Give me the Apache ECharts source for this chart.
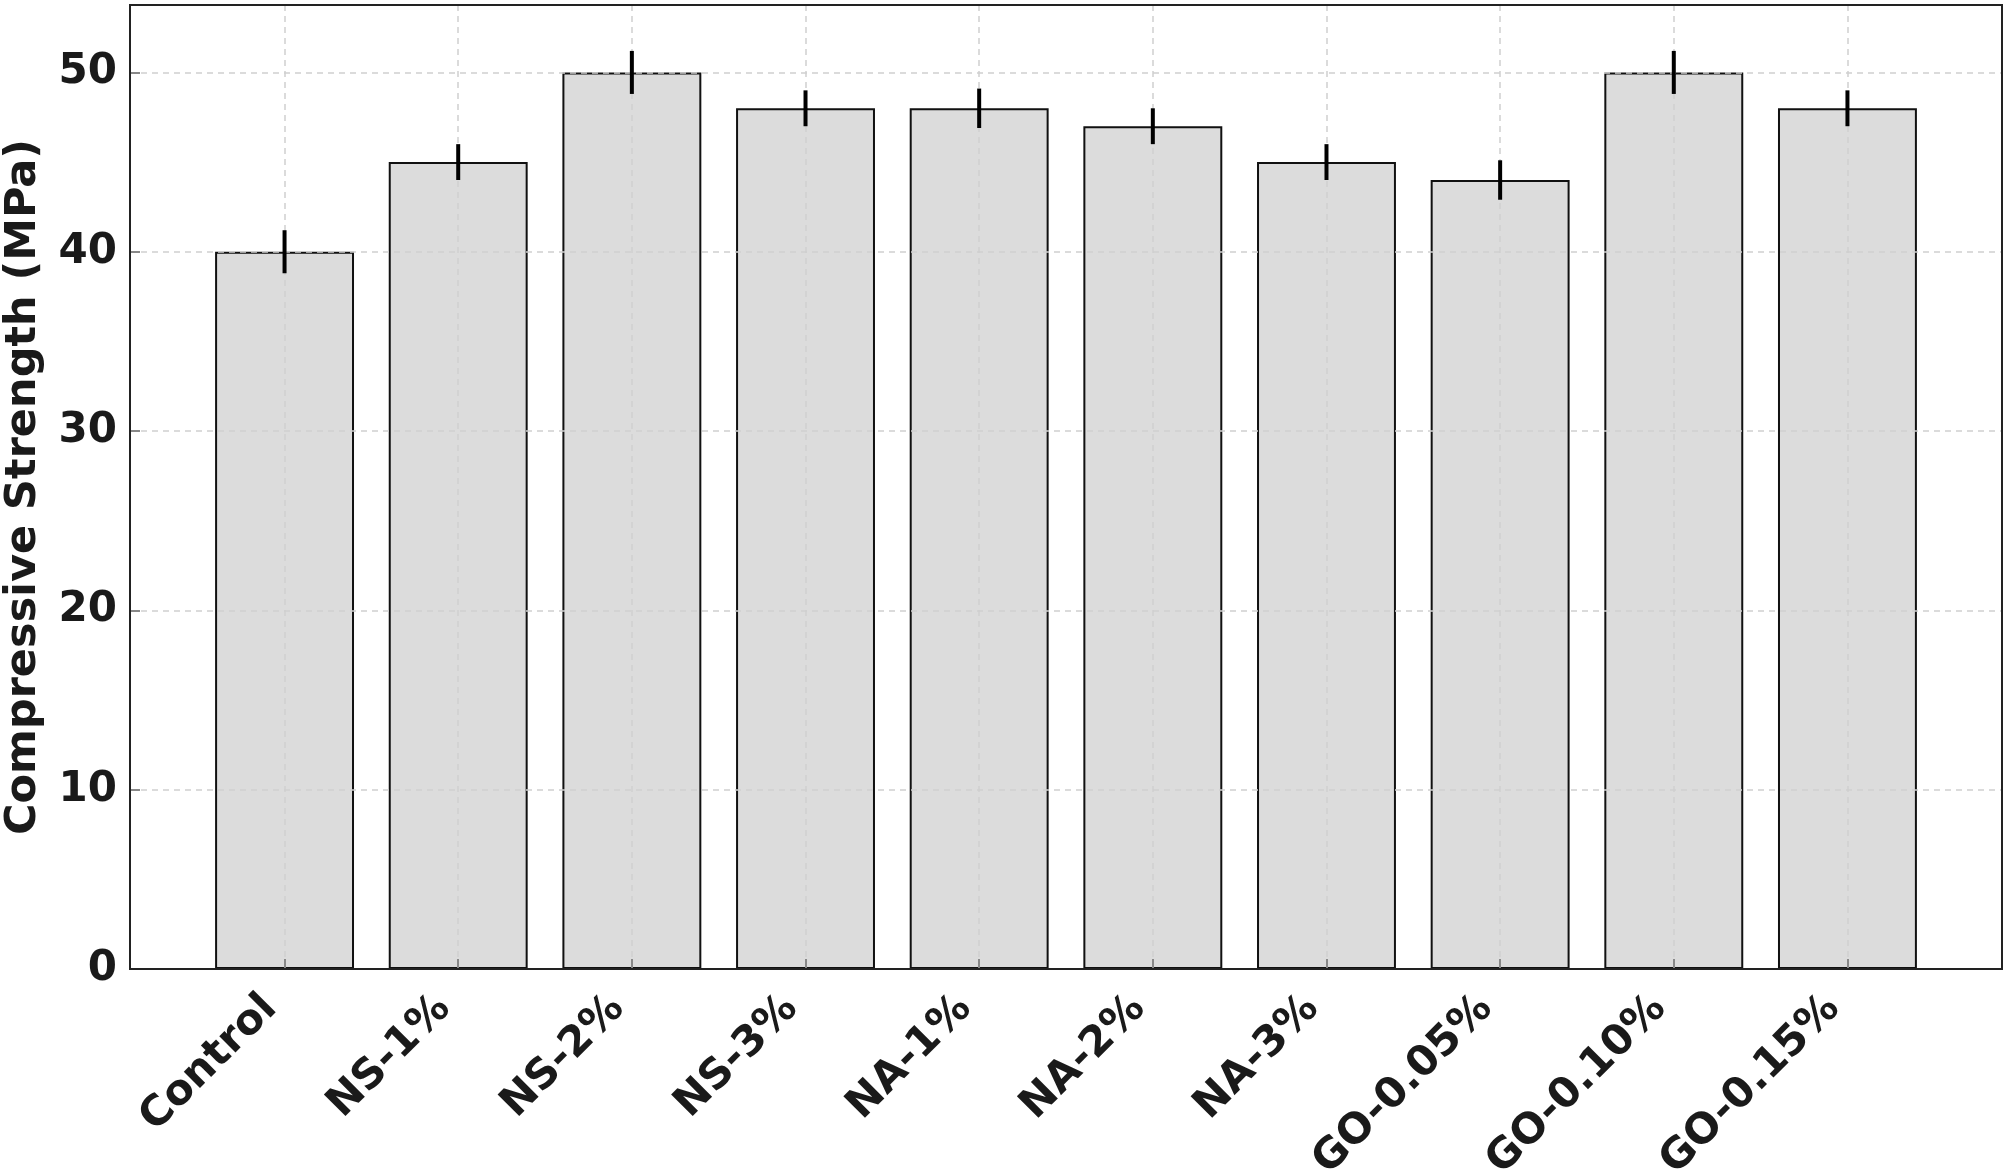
<!DOCTYPE html>
<html>
<head>
<meta charset="utf-8">
<script src="https://cdn.jsdelivr.net/npm/echarts@6/dist/echarts.min.js"></script>
<style>
html,body{margin:0;padding:0;background:#fff;}
#chart{width:2008px;height:1174px;}
</style>
</head>
<body>
<div id="chart"></div>
<script>
const categories = ['Control','NS-1%','NS-2%','NS-3%','NA-1%','NA-2%','NA-3%','GO-0.05%','GO-0.10%','GO-0.15%'];
const strength = [40, 45, 50, 48, 48, 47, 45, 44, 50, 48];
const errors = [1.2, 1.0, 1.2, 1.0, 1.1, 1.0, 1.0, 1.1, 1.2, 1.0];
const yTickValues = [0, 10, 20, 30, 40, 50];
const yTitle = 'Compressive Strength (MPa)';

const FONT = 'DejaVu Sans';
const TXT = '#1a1a1a';
const Y_MAX = 53.76;
// frame (axes box) and category band geometry
const frameL = 130, frameR = 2002, frameT = 5, frameB = 969;
const xMin = -0.89, xMax = 9.89;
const unit = (frameR - frameL) / (xMax - xMin);
const catL = frameL + (0 - xMin) * unit;
const catW = (categories.length - 1) * unit;

const chart = echarts.init(document.getElementById('chart'), null, {renderer: 'canvas'});
chart.setOption({
  animation: false,
  backgroundColor: '#ffffff',
  grid: [
    {left: frameL, top: frameT, width: frameR - frameL, height: frameB - frameT,
     containLabel: false, outerBoundsMode: 'none'},
    {left: catL, top: frameT, width: catW, height: frameB - frameT,
     containLabel: false, outerBoundsMode: 'none'}
  ],
  xAxis: [
    {type: 'value', gridIndex: 0, min: xMin, max: xMax, show: false},
    {type: 'category', gridIndex: 1, data: categories, boundaryGap: false, z: 3,
     axisLine: {show: false, onZero: false},
     axisTick: {show: true, inside: true, length: 10, lineStyle: {color: '#888', width: 2}},
     splitLine: {show: true, lineStyle: {color: '#cfcfcf', width: 1.5, type: [6, 5]}},
     axisLabel: {rotate: 45, margin: 19, fontFamily: FONT, fontWeight: 'bold', fontSize: 42,
                 color: TXT, interval: 0, padding: [0, 20, 40, 0]}}
  ],
  yAxis: [
    {type: 'value', gridIndex: 0, min: 0, max: Y_MAX, interval: 10, z: 3,
     axisLine: {show: false, onZero: false},
     axisTick: {show: true, inside: true, length: 10, lineStyle: {color: '#888', width: 2},
                customValues: yTickValues},
     axisLabel: {margin: 13, fontFamily: FONT, fontWeight: 'bold', fontSize: 42, color: TXT,
                 customValues: yTickValues},
     splitLine: {show: true, lineStyle: {color: '#cfcfcf', width: 1.5, type: [6, 5]}}},
    {type: 'value', gridIndex: 1, min: 0, max: Y_MAX, show: false, axisLine: {onZero: false}}
  ],
  graphic: [
    {type: 'rect', z: 100, silent: true,
     shape: {x: frameL, y: frameT, width: frameR - frameL, height: frameB - frameT},
     style: {fill: 'none', stroke: '#222', lineWidth: 2}},
    {type: 'text', x: 24, y: (frameT + frameB) / 2, rotation: Math.PI / 2,
     style: {text: yTitle, font: 'bold 43px "DejaVu Sans"', fill: TXT, align: 'center', verticalAlign: 'middle'}}
  ],
  series: [
    {type: 'bar', xAxisIndex: 1, yAxisIndex: 1, data: strength, barWidth: '80%', clip: false, z: 2,
     itemStyle: {color: '#dcdcdc', borderColor: '#111', borderWidth: 2}},
    {type: 'custom', xAxisIndex: 1, yAxisIndex: 1, z: 4, clip: false,
     data: categories.map((c, i) => [i, strength[i], errors[i]]),
     renderItem: function (params, api) {
       const i = api.value(0), v = api.value(1), e = api.value(2);
       const p1 = api.coord([i, v + e]);
       const p2 = api.coord([i, v - e]);
       return {type: 'line', shape: {x1: p1[0], y1: p1[1], x2: p2[0], y2: p2[1]},
               style: {stroke: '#000', lineWidth: 4}};
     }}
  ]
});
</script>
</body>
</html>
